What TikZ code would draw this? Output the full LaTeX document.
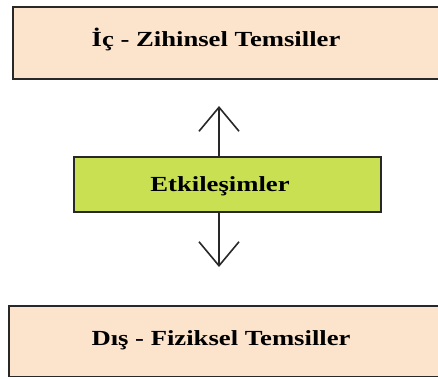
\documentclass[tikz,border=0pt]{standalone}
\usepackage{fontspec}
\usepackage{graphicx}
\setmainfont{Liberation Serif}
\usetikzlibrary{arrows.meta}
\definecolor{peach}{RGB}{252,227,204}
\definecolor{lime}{RGB}{201,224,83}
\definecolor{edge}{RGB}{40,40,40}
\newcommand{\lbl}[1]{\scalebox{1.24}[1]{\fontsize{21.5}{24}\selectfont\bfseries #1}}
\begin{document}
\begin{tikzpicture}[x=1pt,y=-1pt,
  boxstyle/.style={draw=edge,line width=1.6pt,rectangle,inner sep=0pt},
  txtstyle/.style={anchor=base,inner sep=0pt,text=black},
  arrowline/.style={draw=edge,line width=1.6pt,-{Straight Barb[length=24pt,width=40pt,line width=1.6pt]}}]
\clip (0,0) rectangle (438,378);
\fill[white] (0,0) rectangle (438,378);
\node[boxstyle,fill=peach,minimum width=437pt,minimum height=72pt] (top) at (231.5,43) {};
\node[boxstyle,fill=lime,minimum width=307pt,minimum height=55pt] (mid) at (227.5,184.5) {};
\node[boxstyle,fill=peach,minimum width=441pt,minimum height=70.5pt] (bot) at (229.5,341.25) {};
\node[txtstyle] (toptxt) at (216,46) {\lbl{İç - Zihinsel Temsiller}};
\node[txtstyle] (midtxt) at (220,191.5) {\lbl{Etkileşimler}};
\node[txtstyle] (bottxt) at (221,345) {\lbl{Dış - Fiziksel Temsiller}};
\coordinate (upTip) at (219,106);
\coordinate (downTip) at (219,267);
\draw[arrowline] (mid.north -| upTip) -- (upTip);
\draw[arrowline] (mid.south -| downTip) -- (downTip);
\end{tikzpicture}
\end{document}
